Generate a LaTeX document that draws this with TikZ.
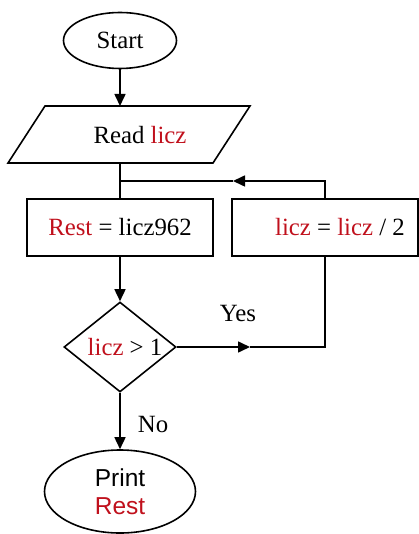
\documentclass[tikz,border=0pt]{standalone}
\usepackage{fontspec}
\setmainfont{Liberation Serif}
\setsansfont{Liberation Sans}
\usetikzlibrary{shapes.geometric,arrows.meta}
\definecolor{varred}{RGB}{192,16,28}
\begin{document}
\begin{tikzpicture}[x=1pt,y=-1pt,
  line width=1.6pt,
  every node/.style={font=\fontsize{24.8}{28}\selectfont},
  arr/.style={-{Triangle[length=12pt,width=11pt]}},
  termbox/.style={draw,ellipse,inner sep=0pt},
  procbox/.style={draw,rectangle,inner sep=0pt,minimum width=186pt,minimum height=57pt},
  decbox/.style={draw,diamond,inner sep=0pt,minimum width=112pt,minimum height=90pt},
  lbl/.style={inner sep=0pt}]
\useasboundingbox (0,0) rectangle (419,534);
% nodes
\node[termbox,minimum width=113pt,minimum height=56pt] (start) at (120,40.5) {Start};
\draw (45,106) -- (250,106) -- (213,163) -- (8,163) -- cycle;
\node[lbl] (read) at (140,135) {Read \textcolor{varred}{licz}};
\coordinate (readtop) at (120,106);
\coordinate (readbot) at (120,163);
\node[procbox] (rest) at (120,227.5) {\textcolor{varred}{Rest} = licz962};
\node[procbox] (halve) at (325,227.5) {\hspace*{30pt}\textcolor{varred}{licz} = \textcolor{varred}{licz} / 2};
\node[decbox] (dec) at (120,347) {\makebox[0pt]{\hspace*{10pt}\textcolor{varred}{licz} > 1}};
\node[termbox,minimum width=151pt,minimum height=83pt,align=center,font=\sffamily\fontsize{24.5}{28}\selectfont] (print) at (120,491.5) {Print\\\textcolor{varred}{Rest}};
\coordinate (junc) at (120,181);
\coordinate (loopcorner) at (325,181);
\coordinate (looptip) at (233,181);
\coordinate (yescorner) at (325,347);
\coordinate (yestip) at (250,347);
% labels
\node[lbl] (yes) at (238,314) {Yes};
\node[lbl] (no) at (153,424) {No};
% connectors
\draw[arr] (start.south) -- (readtop);
\draw (readbot) -- (rest.north);
\draw[arr] (rest.south) -- (dec.north);
\draw[arr] (dec.south) -- (print.north);
\draw[arr] (dec.east) -- (yestip);
\draw (yestip) -- (yescorner) -- (halve.south);
\draw[arr] (halve.north) -- (loopcorner) -- (looptip);
\draw (looptip) -- (junc);
\end{tikzpicture}
\end{document}
